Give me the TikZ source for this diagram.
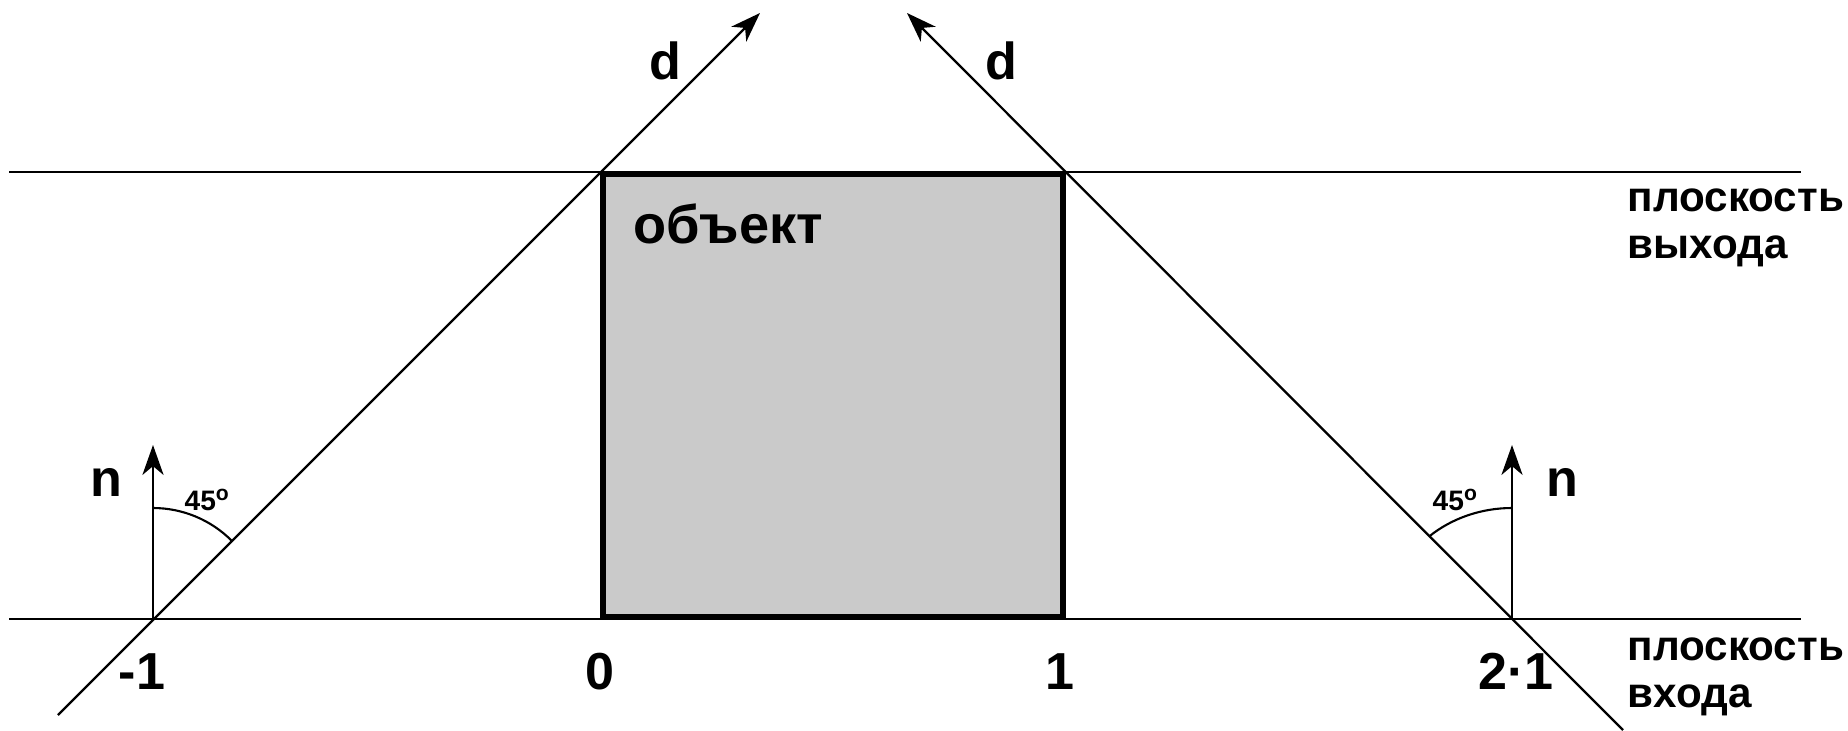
\documentclass[tikz,border=0pt]{standalone}
\usepackage{fontspec}
\setmainfont{Liberation Sans}
\usetikzlibrary{arrows.meta}
\definecolor{objgray}{RGB}{202,202,202}

\begin{document}
\begin{tikzpicture}[x=0.01cm,y=-0.01cm,
  plane/.style={line width=0.6pt},
  ray/.style={line width=0.65pt,-{Stealth[length=8.5pt,width=6pt,inset=2.5pt]}},
  lbl/.style={font=\fontsize{14.8}{17}\selectfont\bfseries,inner sep=0pt},
  planelbl/.style={font=\fontsize{12}{13.5}\selectfont\bfseries,align=left,inner sep=0pt,anchor=north west},
  anglbl/.style={font=\fontsize{8}{9}\selectfont\bfseries,inner sep=0pt,anchor=base west}]
\useasboundingbox (0,0) rectangle (1848,730);
% object
\node[draw,line width=1.75pt,fill=objgray,minimum width=4.6cm,minimum height=4.43cm,inner sep=0pt] (obj) at (833,395.5) {};
\node[lbl,font=\fontsize{15.4}{18}\selectfont\bfseries,anchor=base west] (objtxt) at (633,243) {объект};
% planes
\coordinate (outW) at (9,172); \coordinate (outE) at (1801,172);
\coordinate (inW) at (9,619); \coordinate (inE) at (1801,619);
\draw[plane] (outW) -- (outE);
\draw[plane] (inW) -- (inE);
\node[planelbl] (outtxt) at (1627,188) {плоскость\\выхода};
\node[planelbl] (intxt) at (1627,637) {плоскость\\входа};
% rays
\coordinate (m1) at (153,619); \coordinate (p2) at (1512,619);
\coordinate (rayLa) at (58,715); \coordinate (rayLb) at (760,13);
\coordinate (rayRa) at (1623,730); \coordinate (rayRb) at (907,13);
\draw[ray] (rayLa) -- (rayLb);
\draw[ray] (rayRa) -- (rayRb);
\node[lbl] (dL) at (665,61) {d};
\node[lbl] (dR) at (1001,61) {d};
% normals
\coordinate (nLtip) at (153,445); \coordinate (nRtip) at (1512,445);
\draw[ray] (m1) -- (nLtip);
\draw[ray] (p2) -- (nRtip);
\node[lbl] (nL) at (106,482) {n};
\node[lbl] (nR) at (1562,482) {n};
\coordinate (arcL) at (153,508); \coordinate (arcR) at (1512,508);
\draw[plane] (arcL) arc[start angle=270,end angle=315,radius=111];
\draw[plane] (arcR) arc[start angle=270,end angle=228.2,x radius=124,y radius=111];
\node[anglbl] (angL) at (184,510) {45\textsuperscript{o}};
\node[anglbl] (angR) at (1432,510) {45\textsuperscript{o}};
% ticks
\node[lbl,anchor=base] (tm1) at (142,689) {-1};
\node[lbl,anchor=base] (t0) at (600,689) {0};
\node[lbl,anchor=base] (t1) at (1060,689) {1};
\node[lbl,anchor=base] (t2) at (1516,689) {2·1};
\end{tikzpicture}
\end{document}
